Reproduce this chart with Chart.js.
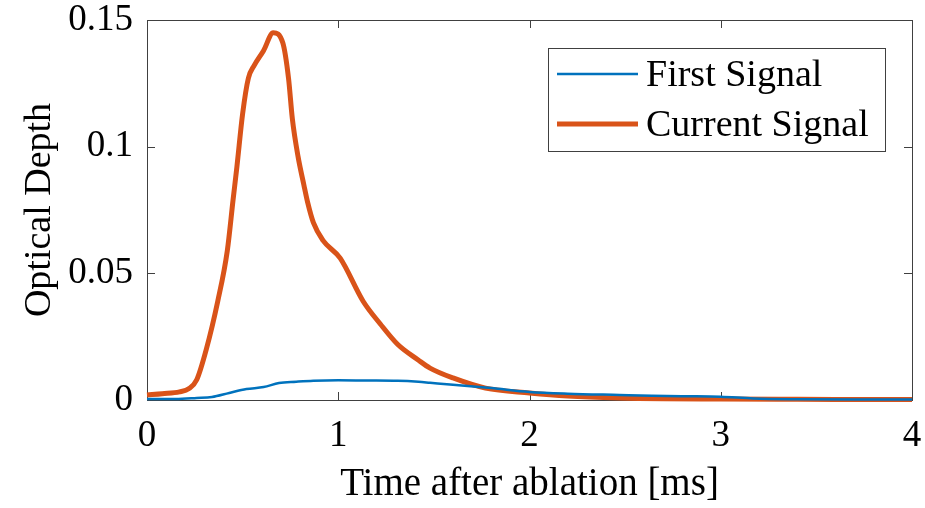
<!DOCTYPE html>
<html>
<head>
<meta charset="utf-8">
<script src="https://cdn.jsdelivr.net/npm/chart.js@4/dist/chart.umd.min.js"></script>
<style>
  html, body { margin: 0; padding: 0; background: #ffffff; }
  #wrap { width: 925px; height: 508px; }
</style>
</head>
<body>
<div id="wrap"><canvas id="c" width="925" height="508"></canvas></div>
<script>
// Optical depth traces after laser ablation (time in ms)
const firstTime = [0, 0.15, 0.26, 0.34, 0.43, 0.52, 0.61, 0.69, 0.78, 0.87, 1.0, 1.15, 1.31, 1.42, 1.48, 1.6, 1.8, 2.0, 2.2, 2.47, 2.64, 2.8, 3.0, 3.17, 3.4, 3.7, 4.0];
const firstOD   = [0.0004, 0.0004, 0.0008, 0.0012, 0.0028, 0.0043, 0.0051, 0.0067, 0.0072, 0.0076, 0.0078, 0.0077, 0.0076, 0.0072, 0.0068, 0.0060, 0.0047, 0.0032, 0.0025, 0.0020, 0.0017, 0.0015, 0.0013, 0.0006, 0.0003, 0.0002, 0.0002];

const currentTime = [0, 0.08, 0.17, 0.22, 0.26, 0.31, 0.37, 0.42, 0.45, 0.47, 0.50, 0.53, 0.56, 0.61, 0.66, 0.71, 0.74, 0.76, 0.79, 0.82, 0.84, 0.87, 0.92, 1.01, 1.13, 1.22, 1.31, 1.42, 1.48, 1.60, 1.77, 2.0, 2.2, 2.47, 2.7, 3.0, 3.3, 3.6, 4.0];
const currentOD   = [0.0020, 0.0025, 0.0032, 0.0045, 0.0080, 0.020, 0.039, 0.059, 0.079, 0.092, 0.113, 0.127, 0.132, 0.138, 0.145, 0.141, 0.127, 0.111, 0.096, 0.085, 0.078, 0.070, 0.063, 0.056, 0.039, 0.030, 0.022, 0.0157, 0.0126, 0.0087, 0.0047, 0.0028, 0.0016, 0.0008, 0.0005, 0.0004, 0.0003, 0.0002, 0.0002];

const xTicks = [0, 1, 2, 3, 4];
const yTicks = [0, 0.05, 0.1, 0.15];
const yTickLabels = ['0', '0.05', '0.1', '0.15'];
const seriesNames = ['First Signal', 'Current Signal'];

const FONT = '"Liberation Serif", "Times New Roman", serif';
const AXIS_COLOR = '#404040';

function pairs(xs, ys) { return xs.map((x, i) => ({ x: x, y: ys[i] })); }

// MATLAB-style box with inward ticks on all four sides
const boxPlugin = {
  id: 'boxTicks',
  beforeDatasetsDraw(chart) {
    const { ctx, chartArea: a, scales } = chart;
    ctx.save();
    ctx.strokeStyle = AXIS_COLOR;
    ctx.lineWidth = 1;
    ctx.strokeRect(Math.round(a.left) + 0.5, Math.round(a.top) + 0.5, Math.round(a.right - a.left), Math.round(a.bottom - a.top));
    const tl = 8;
    ctx.beginPath();
    xTicks.forEach(v => {
      const px = Math.round(scales.x.getPixelForValue(v)) + 0.5;
      ctx.moveTo(px, a.bottom); ctx.lineTo(px, a.bottom - tl);
      ctx.moveTo(px, a.top); ctx.lineTo(px, a.top + tl);
    });
    yTicks.forEach(v => {
      const py = Math.round(scales.y.getPixelForValue(v)) + 0.5;
      ctx.moveTo(a.left, py); ctx.lineTo(a.left + tl, py);
      ctx.moveTo(a.right, py); ctx.lineTo(a.right - tl, py);
    });
    ctx.stroke();
    ctx.restore();
  }
};

// Boxed legend in the upper right of the axes
const legendPlugin = {
  id: 'boxLegend',
  afterDatasetsDraw(chart) {
    const { ctx } = chart;
    const bx = 548, by = 48, bw = 337, bh = 103;
    ctx.save();
    ctx.fillStyle = '#ffffff';
    ctx.fillRect(bx, by, bw, bh);
    ctx.strokeStyle = AXIS_COLOR;
    ctx.lineWidth = 1;
    ctx.strokeRect(bx + 0.5, by + 0.5, bw, bh);
    ctx.font = '38px ' + FONT;
    ctx.textBaseline = 'middle';
    ctx.fillStyle = '#000000';
    const rows = [by + 26, by + 76];
    chart.data.datasets.forEach((ds, i) => {
      ctx.strokeStyle = ds.borderColor;
      ctx.lineWidth = ds.borderWidth;
      ctx.beginPath();
      ctx.moveTo(557, rows[i]);
      ctx.lineTo(638, rows[i]);
      ctx.stroke();
      ctx.fillText(ds.label, 646, rows[i] + 2);
    });
    ctx.restore();
  }
};

new Chart(document.getElementById('c'), {
  type: 'line',
  data: {
    datasets: [
      {
        label: seriesNames[0],
        data: pairs(firstTime, firstOD),
        borderColor: '#0072BD',
        borderWidth: 2.5,
        pointRadius: 0,
        cubicInterpolationMode: 'monotone',
        clip: false
      },
      {
        label: seriesNames[1],
        data: pairs(currentTime, currentOD),
        borderColor: '#D95319',
        borderWidth: 5,
        pointRadius: 0,
        cubicInterpolationMode: 'monotone',
        clip: false
      }
    ]
  },
  options: {
    responsive: false,
    animation: false,
    devicePixelRatio: 1,
    layout: { padding: { top: 20, right: 13, left: 0, bottom: 0 } },
    plugins: { legend: { display: false }, tooltip: { enabled: false } },
    scales: {
      x: {
        type: 'linear',
        min: 0, max: 4,
        afterFit(s) { s.height = 108; s.paddingLeft = 0; s.paddingRight = 0; },
        afterBuildTicks(s) { s.ticks = xTicks.map(v => ({ value: v })); },
        grid: { display: false, drawTicks: false },
        border: { display: false },
        ticks: {
          padding: 14,
          color: '#000000',
          font: { family: FONT, size: 37 },
          maxRotation: 0,
          callback: v => String(v)
        },
        title: {
          display: true,
          text: 'Time after ablation [ms]',
          color: '#000000',
          font: { family: FONT, size: 39 },
          padding: { top: 0, bottom: 0 }
        }
      },
      y: {
        type: 'linear',
        min: 0, max: 0.15,
        afterFit(s) { s.width = 147; s.paddingTop = 0; s.paddingBottom = 0; },
        afterBuildTicks(s) { s.ticks = yTicks.map(v => ({ value: v })); },
        grid: { display: false, drawTicks: false },
        border: { display: false },
        ticks: {
          padding: 14,
          color: '#000000',
          font: { family: FONT, size: 37 },
          callback: (v) => {
            const i = yTicks.findIndex(t => Math.abs(t - v) < 1e-9);
            return i >= 0 ? yTickLabels[i] : '';
          }
        },
        title: {
          display: true,
          text: 'Optical Depth',
          color: '#000000',
          font: { family: FONT, size: 38 },
          padding: { top: 17, bottom: 0 }
        }
      }
    }
  },
  plugins: [boxPlugin, legendPlugin]
});
</script>
</body>
</html>
